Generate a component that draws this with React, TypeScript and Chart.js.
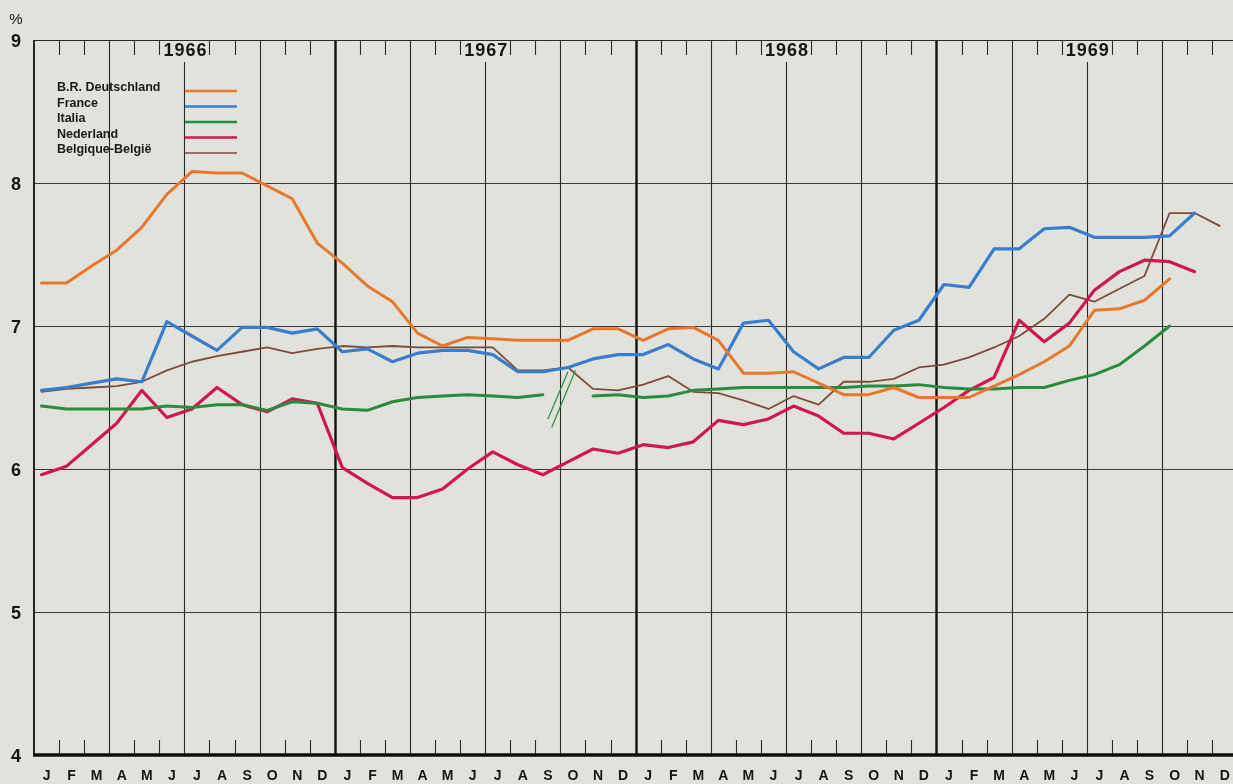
import React, { useEffect, useRef } from "react";
import { Chart, registerables } from "chart.js";

Chart.register(...registerables);

// ---- data ----
const monthLabels = ["J", "F", "M", "A", "M", "J", "J", "A", "S", "O", "N", "D"];
const years = ["1966", "1967", "1968", "1969"];
const yTicks = [4, 5, 6, 7, 8, 9];

const deutschland = [
  7.30, 7.30, 7.42, 7.53, 7.69, 7.92, 8.08, 8.07, 8.07, 7.98, 7.89, 7.58,
  7.44, 7.28, 7.17, 6.95, 6.86, 6.92, 6.91, 6.90, 6.90, 6.90, 6.98, 6.98,
  6.90, 6.98, 6.99, 6.90, 6.67, 6.67, 6.68, 6.60, 6.52, 6.52, 6.57, 6.50,
  6.50, 6.50, 6.58, 6.66, 6.75, 6.86, 7.11, 7.12, 7.18, 7.33, null, null,
];
const france = [
  6.55, 6.57, 6.60, 6.63, 6.61, 7.03, 6.93, 6.83, 6.99, 6.99, 6.95, 6.98,
  6.82, 6.84, 6.75, 6.81, 6.83, 6.83, 6.80, 6.68, 6.68, 6.71, 6.77, 6.80,
  6.80, 6.87, 6.77, 6.70, 7.02, 7.04, 6.82, 6.70, 6.78, 6.78, 6.97, 7.04,
  7.29, 7.27, 7.54, 7.54, 7.68, 7.69, 7.62, 7.62, 7.62, 7.63, 7.79, null,
];
const italia = [
  6.44, 6.42, 6.42, 6.42, 6.42, 6.44, 6.43, 6.45, 6.45, 6.41, 6.47, 6.46,
  6.42, 6.41, 6.47, 6.50, 6.51, 6.52, 6.51, 6.50, 6.52, null, 6.51, 6.52,
  6.50, 6.51, 6.55, 6.56, 6.57, 6.57, 6.57, 6.57, 6.57, 6.58, 6.58, 6.59,
  6.57, 6.56, 6.56, 6.57, 6.57, 6.62, 6.66, 6.73, 6.86, 7.00, null, null,
];
const nederland = [
  5.96, 6.02, 6.17, 6.32, 6.55, 6.36, 6.42, 6.57, 6.45, 6.40, 6.49, 6.46,
  6.01, 5.90, 5.80, 5.80, 5.86, 6.00, 6.12, 6.03, 5.96, 6.05, 6.14, 6.11,
  6.17, 6.15, 6.19, 6.34, 6.31, 6.35, 6.44, 6.37, 6.25, 6.25, 6.21, 6.32,
  6.43, 6.55, 6.64, 7.04, 6.89, 7.02, 7.25, 7.38, 7.46, 7.45, 7.38, null,
];
const belgique = [
  6.54, 6.56, 6.57, 6.58, 6.61, 6.69, 6.75, 6.79, 6.82, 6.85, 6.81, 6.84,
  6.86, 6.85, 6.86, 6.85, 6.85, 6.85, 6.85, 6.69, 6.69, 6.71, 6.56, 6.55,
  6.59, 6.65, 6.54, 6.53, 6.48, 6.42, 6.51, 6.45, 6.61, 6.61, 6.63, 6.71,
  6.73, 6.78, 6.85, 6.93, 7.05, 7.22, 7.17, 7.26, 7.35, 7.79, 7.79, 7.70,
];
const seriesNames = ["B.R. Deutschland", "France", "Italia", "Nederland", "Belgique-België"];
// break symbol on the Italian series (month index, value) pairs
const italyBreakA = [[20.2, 6.35], [21.0, 6.68]];
const italyBreakB = [[20.35, 6.29], [21.3, 6.69]];

// ---- styles ----
const POINT_POS = 0.3; // position of a month's point inside its interval
const COLORS = ["#e8772e", "#3a7dcc", "#2a8a3f", "#d0174f", "#7d4b3a"];
const WIDTHS = [3, 3.2, 3, 3.2, 1.8];
const BG = "#e2e2dd";
const FONT = "'Liberation Sans', 'DejaVu Sans', sans-serif";

const seriesData = [deutschland, france, italia, nederland, belgique];

const framePlugin = {
  id: "frame",
  beforeDatasetsDraw(chart: any) {
    const { ctx, chartArea } = chart;
    const xs = chart.scales.x;
    const ys = chart.scales.y;
    const { left, right, top, bottom } = chartArea;
    const nMonths = years.length * monthLabels.length;
    ctx.save();
    // horizontal grid
    ctx.strokeStyle = "#3a3a3a";
    for (const v of yTicks) {
      const y = Math.round(ys.getPixelForValue(v)) + 0.5;
      if (v === yTicks[0]) continue;
      ctx.lineWidth = 1;
      ctx.beginPath();
      ctx.moveTo(left, y);
      ctx.lineTo(right, y);
      ctx.stroke();
    }
    // vertical lines & ticks
    for (let k = 1; k < nMonths; k++) {
      const x = Math.round(xs.getPixelForValue(k)) + 0.5;
      if (x > right) break;
      if (k % 12 === 0) {
        ctx.strokeStyle = "#111";
        ctx.lineWidth = 2.4;
        ctx.beginPath();
        ctx.moveTo(x, top);
        ctx.lineTo(x, bottom);
        ctx.stroke();
      } else if (k % 3 === 0) {
        ctx.strokeStyle = "#2a2a2a";
        ctx.lineWidth = 1.1;
        ctx.beginPath();
        ctx.moveTo(x, k % 12 === 6 ? top + 22 : top);
        ctx.lineTo(x, bottom);
        ctx.stroke();
      } else {
        ctx.strokeStyle = "#2a2a2a";
        ctx.lineWidth = 1.1;
        ctx.beginPath();
        ctx.moveTo(x, top);
        ctx.lineTo(x, top + 15);
        ctx.moveTo(x, bottom - 15);
        ctx.lineTo(x, bottom);
        ctx.stroke();
      }
    }
    // top border
    ctx.strokeStyle = "#2a2a2a";
    ctx.lineWidth = 1.2;
    ctx.beginPath();
    ctx.moveTo(left, top + 0.5);
    ctx.lineTo(right, top + 0.5);
    ctx.stroke();
    // left axis
    ctx.strokeStyle = "#111";
    ctx.lineWidth = 1.8;
    ctx.beginPath();
    ctx.moveTo(left, top);
    ctx.lineTo(left, bottom);
    ctx.stroke();
    // year labels
    ctx.fillStyle = "#151515";
    ctx.font = `700 18px ${FONT}`;
    ctx.textAlign = "center";
    ctx.textBaseline = "middle";
    (ctx as any).letterSpacing = "1px";
    years.forEach((yr, i) => {
      const x = xs.getPixelForValue(i * 12 + 6);
      ctx.fillText(yr, x + 1, top + 11);
    });
    (ctx as any).letterSpacing = "0px";
    // y labels
    ctx.font = `700 18px ${FONT}`;
    for (const v of yTicks) {
      ctx.fillText(String(v), left - 18, ys.getPixelForValue(v) + 2);
    }
    ctx.font = `400 15px ${FONT}`;
    ctx.fillText("%", left - 18, top - 20);
    // month labels
    ctx.font = `700 14px ${FONT}`;
    for (let k = 0; k < nMonths; k++) {
      const x = xs.getPixelForValue(k + 0.5);
      ctx.fillText(monthLabels[k % 12], x, bottom + 21);
    }
    ctx.restore();
  },
  afterDatasetsDraw(chart: any) {
    const { ctx, chartArea } = chart;
    const xs = chart.scales.x;
    const ys = chart.scales.y;
    const { left, right, top, bottom } = chartArea;
    ctx.save();
    // bottom axis
    ctx.strokeStyle = "#0d0d0d";
    ctx.lineWidth = 3.5;
    ctx.beginPath();
    ctx.moveTo(left - 1, bottom);
    ctx.lineTo(right, bottom);
    ctx.stroke();
    // break symbol
    ctx.strokeStyle = COLORS[2];
    ctx.lineWidth = 1.2;
    for (const seg of [italyBreakA, italyBreakB]) {
      ctx.beginPath();
      ctx.moveTo(xs.getPixelForValue(seg[0][0] + POINT_POS), ys.getPixelForValue(seg[0][1]));
      ctx.lineTo(xs.getPixelForValue(seg[1][0] + POINT_POS), ys.getPixelForValue(seg[1][1]));
      ctx.stroke();
    }
    // legend
    ctx.font = `700 12.5px ${FONT}`;
    ctx.textAlign = "left";
    ctx.textBaseline = "middle";
    seriesNames.forEach((name, i) => {
      const y = top + 48 + i * 15.5;
      ctx.fillStyle = "#1a1a1a";
      ctx.fillText(name, left + 23, y);
      ctx.strokeStyle = COLORS[i];
      ctx.lineWidth = WIDTHS[i] * 0.8;
      ctx.beginPath();
      ctx.moveTo(left + 151, y + 3);
      ctx.lineTo(left + 203, y + 3);
      ctx.stroke();
    });
    ctx.restore();
  },
};

export default function App() {
  const canvasRef = useRef<HTMLCanvasElement | null>(null);

  useEffect(() => {
    const canvas = canvasRef.current;
    if (!canvas) return;
    const datasets = seriesData.map((vals, i) => ({
      label: seriesNames[i],
      data: vals.map((v, k) => ({ x: k + POINT_POS, y: v })),
      borderColor: COLORS[i],
      borderWidth: WIDTHS[i],
      pointRadius: 0,
      tension: 0,
      spanGaps: false,
      borderJoinStyle: "round" as const,
      borderCapStyle: "round" as const,
      fill: false,
    }));
    const chart = new Chart(canvas, {
      type: "line",
      data: { datasets },
      options: {
        animation: false,
        responsive: true,
        maintainAspectRatio: false,
        layout: { padding: { left: 34, top: 40, right: 0, bottom: 29 } },
        plugins: { legend: { display: false }, tooltip: { enabled: false }, title: { display: false } },
        scales: {
          x: { type: "linear", min: 0, max: 47.83, display: false },
          y: { type: "linear", min: 4, max: 9, display: false },
        },
        events: [],
      },
      plugins: [framePlugin],
    });
    return () => chart.destroy();
  }, []);

  return (
    <div style={{ position: "fixed", left: 0, top: 0, width: 1233, height: 784, background: BG }}>
      <canvas ref={canvasRef} />
    </div>
  );
}
